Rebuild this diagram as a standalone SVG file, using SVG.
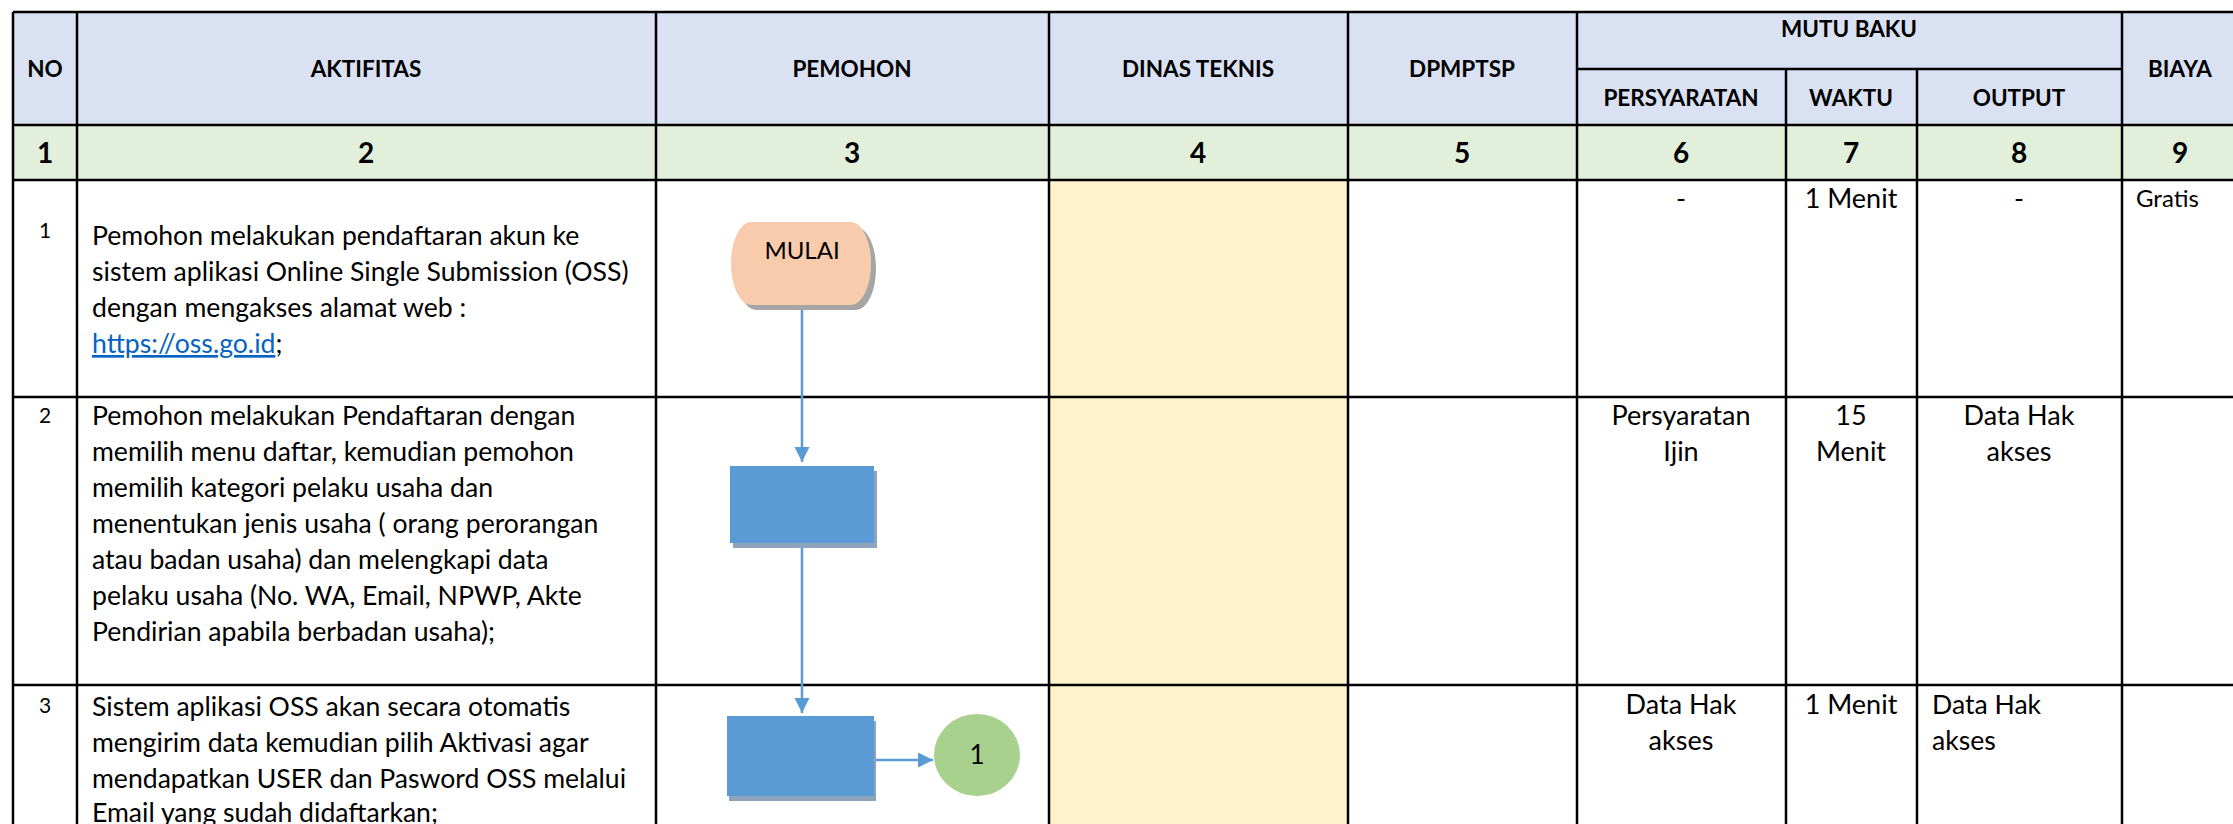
<svg xmlns="http://www.w3.org/2000/svg" width="2233" height="824" viewBox="0 0 2233 824">
<style>
  text { font-family: Lato, 'Liberation Sans', Arial, sans-serif; fill: #000; }
  .hd { font-size: 22.5px; font-weight: bold; text-anchor: middle; }
  .num { font-size: 28px; font-weight: bold; text-anchor: middle; }
  .no { font-size: 21px; text-anchor: middle; }
  .body { font-size: 26.6px; }
  .cell { font-size: 27px; text-anchor: middle; }
  .grid { stroke: #000; stroke-width: 2.5; fill: none; }
  .conn { stroke: #5B9BD5; stroke-width: 2.5; fill: none; }
  .lbl { font-size: 24px; text-anchor: middle; }
</style>
<defs>
  <marker id="arr" markerUnits="userSpaceOnUse" markerWidth="16" markerHeight="16" refX="15" refY="7.5" orient="auto">
    <path d="M0,0 L15,7.5 L0,15 z" fill="#5B9BD5"/>
  </marker>
</defs>
<rect width="2233" height="824" fill="#fff"/>
<g id="table-fills">
  <rect x="13" y="12" width="2225" height="113" fill="#D9E1F2"/>
  <rect x="13" y="125" width="2225" height="55" fill="#E2EFDA"/>
  <rect x="1049" y="180" width="299" height="644" fill="#FFF2CC"/>
</g>
<g id="table-grid" class="grid">
  <line x1="13" y1="12" x2="2240" y2="12"/>
  <line x1="1577" y1="69" x2="2122" y2="69"/>
  <line x1="13" y1="125" x2="2240" y2="125"/>
  <line x1="13" y1="180" x2="2240" y2="180"/>
  <line x1="13" y1="397" x2="2240" y2="397"/>
  <line x1="13" y1="685" x2="2240" y2="685"/>
  <line x1="13" y1="12" x2="13" y2="824"/>
  <line x1="77" y1="12" x2="77" y2="824"/>
  <line x1="656" y1="12" x2="656" y2="824"/>
  <line x1="1049" y1="12" x2="1049" y2="824"/>
  <line x1="1348" y1="12" x2="1348" y2="824"/>
  <line x1="1577" y1="12" x2="1577" y2="824"/>
  <line x1="1786" y1="69" x2="1786" y2="824"/>
  <line x1="1917" y1="69" x2="1917" y2="824"/>
  <line x1="2122" y1="12" x2="2122" y2="824"/>
</g>
<g id="header-text">
  <text class="hd" x="45" y="77">NO</text>
  <text class="hd" x="366" y="77">AKTIFITAS</text>
  <text class="hd" x="852" y="77">PEMOHON</text>
  <text class="hd" x="1198" y="77">DINAS TEKNIS</text>
  <text class="hd" x="1462" y="77">DPMPTSP</text>
  <text class="hd" x="1849" y="37">MUTU BAKU</text>
  <text class="hd" x="1681" y="106">PERSYARATAN</text>
  <text class="hd" x="1851" y="106">WAKTU</text>
  <text class="hd" x="2019" y="106">OUTPUT</text>
  <text class="hd" x="2180" y="77">BIAYA</text>
  <text class="num" x="45" y="163">1</text>
  <text class="num" x="366" y="163">2</text>
  <text class="num" x="852" y="163">3</text>
  <text class="num" x="1198" y="163">4</text>
  <text class="num" x="1462" y="163">5</text>
  <text class="num" x="1681" y="163">6</text>
  <text class="num" x="1851" y="163">7</text>
  <text class="num" x="2019" y="163">8</text>
  <text class="num" x="2180" y="163">9</text>
</g>
<g id="row-1">
  <text class="no" x="45" y="238">1</text>
  <text class="body" x="92" y="245">Pemohon melakukan pendaftaran akun ke</text>
  <text class="body" x="92" y="281">sistem aplikasi Online Single Submission (OSS)</text>
  <text class="body" x="92" y="317">dengan mengakses alamat web :</text>
  <text class="body" x="92" y="353"><tspan fill="#0563C1" text-decoration="underline">https://oss.go.id</tspan>;</text>
  <text class="cell" x="1681" y="208">-</text>
  <text class="cell" x="1851" y="208">1 Menit</text>
  <text class="cell" x="2019" y="208">-</text>
  <text x="2136" y="207" style="font-size:24px">Gratis</text>
</g>
<g id="row-2">
  <text class="no" x="45" y="423">2</text>
  <text class="body" x="92" y="425">Pemohon melakukan Pendaftaran dengan</text>
  <text class="body" x="92" y="461">memilih menu daftar, kemudian pemohon</text>
  <text class="body" x="92" y="497">memilih kategori pelaku usaha dan</text>
  <text class="body" x="92" y="533">menentukan jenis usaha ( orang perorangan</text>
  <text class="body" x="92" y="569">atau badan usaha) dan melengkapi data</text>
  <text class="body" x="92" y="605">pelaku usaha (No. WA, Email, NPWP, Akte</text>
  <text class="body" x="92" y="641">Pendirian apabila berbadan usaha);</text>
  <text class="cell" x="1681" y="425">Persyaratan</text>
  <text class="cell" x="1681" y="461">Ijin</text>
  <text class="cell" x="1851" y="425">15</text>
  <text class="cell" x="1851" y="461">Menit</text>
  <text class="cell" x="2019" y="425">Data Hak</text>
  <text class="cell" x="2019" y="461">akses</text>
</g>
<g id="row-3">
  <text class="no" x="45" y="713">3</text>
  <text class="body" x="92" y="716">Sistem aplikasi OSS akan secara otomatis</text>
  <text class="body" x="92" y="752">mengirim data kemudian pilih Aktivasi agar</text>
  <text class="body" x="92" y="788">mendapatkan USER dan Pasword OSS melalui</text>
  <text class="body" x="92" y="822">Email yang sudah didaftarkan;</text>
  <text class="cell" x="1681" y="714">Data Hak</text>
  <text class="cell" x="1681" y="750">akses</text>
  <text class="cell" x="1851" y="714">1 Menit</text>
  <text class="body" x="1932" y="714">Data Hak</text>
  <text class="body" x="1932" y="750">akses</text>
</g>
<g id="connectors">
  <line class="conn" x1="802" y1="305" x2="802" y2="462" marker-end="url(#arr)"/>
  <line class="conn" x1="802" y1="543" x2="802" y2="713" marker-end="url(#arr)"/>
  <line class="conn" x1="874" y1="760" x2="933" y2="760" marker-end="url(#arr)"/>
</g>
<g id="node-mulai">
  <path d="M756,227 H856 A20,41.5 0 0 1 856,310 H756 A20,41.5 0 0 1 756,227 z" fill="#A5A5A5"/>
  <path d="M751,222 H851 A20,41.5 0 0 1 851,305 H751 A20,41.5 0 0 1 751,222 z" fill="#F8CBAD"/>
  <text class="lbl" x="802" y="259">MULAI</text>
</g>
<g id="node-proses-1">
  <rect x="733" y="471" width="144" height="77" fill="#8EA3BC"/>
  <rect x="730" y="466" width="144" height="77" fill="#5B9BD5"/>
</g>
<g id="node-proses-2">
  <rect x="729" y="721" width="147" height="80" fill="#8EA3BC"/>
  <rect x="727" y="716" width="147" height="80" fill="#5B9BD5"/>
</g>
<g id="node-konektor-1">
  <ellipse cx="977" cy="755" rx="43" ry="41" fill="#A9D18E"/>
  <text class="lbl" x="977" y="764" style="font-size:26px">1</text>
</g>
</svg>
